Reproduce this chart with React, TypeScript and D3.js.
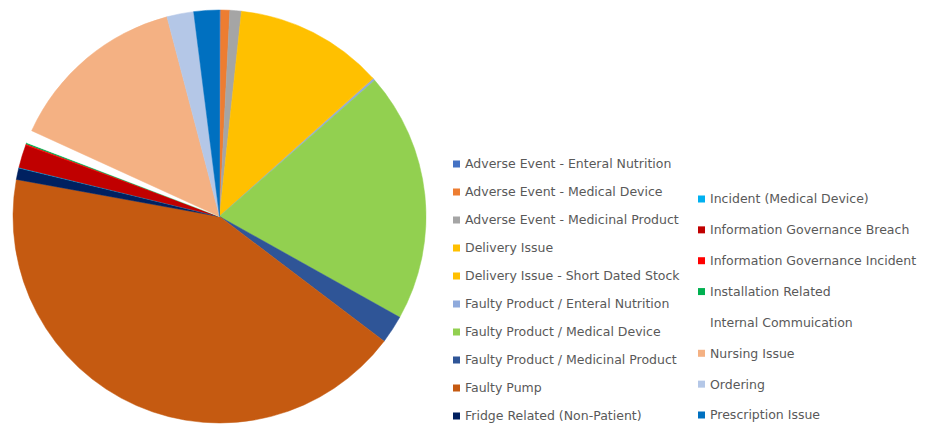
import React, { useEffect, useRef } from "react";
import * as d3 from "d3";

// slice order follows the legend, clockwise from 12 o'clock
const categories = [
  "Adverse Event  - Enteral Nutrition",
  "Adverse Event - Medical Device",
  "Adverse Event - Medicinal Product",
  "Delivery Issue",
  "Delivery Issue - Short Dated Stock",
  "Faulty Product / Enteral Nutrition",
  "Faulty Product / Medical Device",
  "Faulty Product / Medicinal Product",
  "Faulty Pump",
  "Fridge Related (Non-Patient)",
  "Incident (Medical Device)",
  "Information Governance Breach",
  "Information Governance Incident",
  "Installation Related",
  "Internal Commuication",
  "Nursing Issue",
  "Ordering",
  "Prescription Issue",
];

// share of incidents (%)
const shares = [
  0.1, 0.7, 0.9, 11.6, 0.1, 0.15, 19.6, 2.2, 42.6, 0.9,
  0.05, 1.8, 0.1, 0.1, 1.0, 14.1, 2.1, 2.0,
];

const colors = [
  "#4472C4", "#ED7D31", "#A5A5A5", "#FFC000", "#FFC000", "#8FAADC",
  "#92D050", "#2F5597", "#C55A11", "#002060", "#00B0F0", "#C00000",
  "#FF0000", "#00B050", "#FFFFFF", "#F4B183", "#B4C7E7", "#0070C0",
];

const leftCount = 10;

export default function App() {
  const ref = useRef<SVGSVGElement>(null);

  useEffect(() => {
    const svg = d3.select(ref.current);
    svg.selectAll("*").remove();

    const cx = 219.5;
    const cy = 216.5;
    const radius = 206.5;

    const data = categories.map((name, i) => ({ name, value: shares[i], color: colors[i] }));

    const pie = d3.pie<any>().sort(null).value(d => d.value);
    const arc = d3.arc<any>().innerRadius(0).outerRadius(radius);

    svg.append("g")
      .attr("transform", `translate(${cx},${cy})`)
      .selectAll("path")
      .data(pie(data))
      .join("path")
        .attr("d", arc)
        .attr("fill", d => d.data.color)
        .attr("stroke", d => d.data.color)
        .attr("stroke-width", 0.5);

    const legend = svg.append("g")
      .style("font-family", "'DejaVu Sans', sans-serif")
      .style("font-size", "12.5px")
      .style("white-space", "pre")
      .attr("fill", "#595959");

    const yLeft = d3.scaleLinear().domain([0, leftCount - 1]).range([164, 416]);
    const yRight = d3.scaleLinear().domain([0, categories.length - leftCount - 1]).range([199, 415]);

    const items = legend.selectAll("g")
      .data(data)
      .join("g")
        .attr("transform", (d, i) => i < leftCount
          ? `translate(453,${yLeft(i)})`
          : `translate(698,${yRight(i - leftCount)})`);

    items.append("rect")
      .attr("x", 0)
      .attr("y", -3.5)
      .attr("width", 7)
      .attr("height", 7)
      .attr("fill", d => d.color);

    items.append("text")
      .attr("x", 12)
      .attr("dy", "0.35em")
      .text(d => d.name);
  }, []);

  return (
    <div style={{ position: "absolute", left: 0, top: 0 }}>
      <svg ref={ref} width={936} height={429} style={{ display: "block", background: "#fff" }} />
    </div>
  );
}
